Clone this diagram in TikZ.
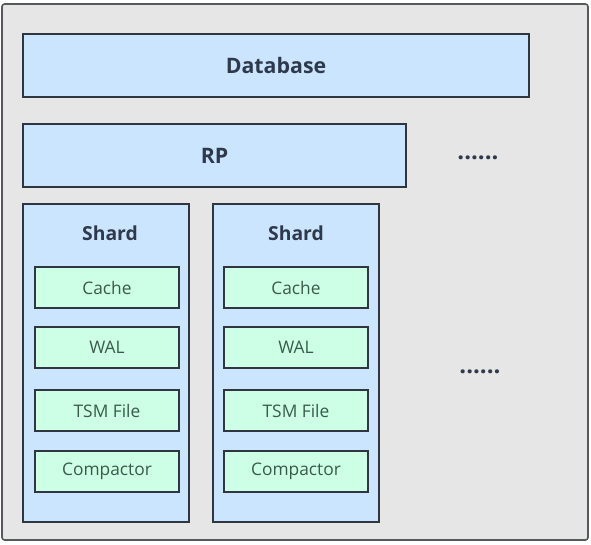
\documentclass[tikz,border=0pt]{standalone}
\usepackage{fontspec}
\setmainfont{Open Sans}
\usepackage{xcolor}
\definecolor{framefill}{HTML}{E6E6E6}
\definecolor{framegray}{HTML}{55585C}
\definecolor{layerblue}{HTML}{CCE5FF}
\definecolor{partgreen}{HTML}{CCFFE6}
\definecolor{edgedark}{HTML}{2F3640}
\definecolor{titleink}{HTML}{2E3A4C}
\definecolor{partink}{HTML}{3A5A4C}

\begin{document}
\begin{tikzpicture}[x=0.75pt,y=-0.75pt,
  every node/.style={font=\fontsize{13}{15}\selectfont,text=partink},
  edge/.style={draw=edgedark,line width=1.5pt},
  title/.style={font=\bfseries\fontsize{16}{18}\selectfont,text=titleink},
  shardtitle/.style={font=\bfseries\fontsize{14.5}{17}\selectfont,text=titleink},
  more/.style={font=\bfseries\fontsize{18}{20}\selectfont,text=titleink,anchor=base}]
\useasboundingbox (0,0) rectangle (591,544);
\fill[white] (0,0) rectangle (591,544);
\draw[framegray,fill=framefill,rounded corners=2pt,line width=1.2pt] (2,4) rectangle (588,540);
% database and retention policy
\fill[layerblue] (23,34) rectangle (529,97);
\draw[edge] (23,34) rectangle (529,97);
\node[title] (db) at (276,65.5) {Database};
\fill[layerblue] (23,124) rectangle (406,187);
\draw[edge] (23,124) rectangle (406,187);
\node[title] (rp) at (214.5,155.5) {RP};
\node[more] (rpmore) at (478,159) {......};
% first shard
\fill[layerblue] (23,204) rectangle (189,522);
\draw[edge] (23,204) rectangle (189,522);
\node[shardtitle] (sa) at (110,233) {Shard};
\fill[partgreen] (35,267) rectangle (179,308);
\draw[edge] (35,267) rectangle (179,308);
\node (sacache) at (107,287.5) {Cache};
\fill[partgreen] (35,327) rectangle (179,368);
\draw[edge] (35,327) rectangle (179,368);
\node (sawal) at (107,347.5) {WAL};
\fill[partgreen] (35,390) rectangle (179,431);
\draw[edge] (35,390) rectangle (179,431);
\node (satsm) at (107,410.5) {TSM File};
\fill[partgreen] (35,451) rectangle (179,492);
\draw[edge] (35,451) rectangle (179,492);
\node (sacomp) at (107,471.5) {Compactor};
% second shard
\fill[layerblue] (213,204) rectangle (379,522);
\draw[edge] (213,204) rectangle (379,522);
\node[shardtitle] (sb) at (296,233) {Shard};
\fill[partgreen] (224,267) rectangle (368,308);
\draw[edge] (224,267) rectangle (368,308);
\node (sbcache) at (296,287.5) {Cache};
\fill[partgreen] (224,327) rectangle (368,368);
\draw[edge] (224,327) rectangle (368,368);
\node (sbwal) at (296,347.5) {WAL};
\fill[partgreen] (224,390) rectangle (368,431);
\draw[edge] (224,390) rectangle (368,431);
\node (sbtsm) at (296,410.5) {TSM File};
\fill[partgreen] (224,451) rectangle (368,492);
\draw[edge] (224,451) rectangle (368,492);
\node (sbcomp) at (296,471.5) {Compactor};
\node[more] (shardmore) at (480,373) {......};
\end{tikzpicture}
\end{document}
